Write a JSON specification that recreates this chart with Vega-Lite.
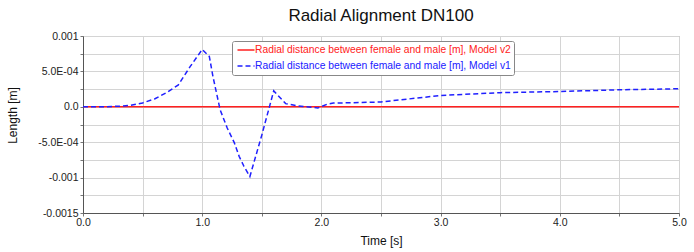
{
  "$schema": "https://vega.github.io/schema/vega-lite/v6.json",
  "autosize": {"type": "none"},
  "width": 596,
  "height": 177,
  "padding": {"left": 83, "top": 36, "right": 15, "bottom": 39},
  "background": "white",
  "config": {
    "font": "Liberation Sans",
    "view": {"stroke": "#9a9a9a", "strokeWidth": 1}
  },
  "title": {"text": "Radial Alignment DN100", "fontSize": 17, "fontWeight": "normal", "color": "#111", "anchor": "middle", "offset": 6},
  "data": {
    "values": [
      {"t": 0, "v": 0, "s": "Radial distance between female and male [m], Model v2"},
      {"t": 5, "v": 0, "s": "Radial distance between female and male [m], Model v2"},
      {"t": 0, "v": 0, "s": "Radial distance between female and male [m], Model v1"},
      {"t": 0.1, "v": 0, "s": "Radial distance between female and male [m], Model v1"},
      {"t": 0.2, "v": 0.000002, "s": "Radial distance between female and male [m], Model v1"},
      {"t": 0.3, "v": 0.000008, "s": "Radial distance between female and male [m], Model v1"},
      {"t": 0.4, "v": 0.000022, "s": "Radial distance between female and male [m], Model v1"},
      {"t": 0.5, "v": 0.000055, "s": "Radial distance between female and male [m], Model v1"},
      {"t": 0.6, "v": 0.00011, "s": "Radial distance between female and male [m], Model v1"},
      {"t": 0.7, "v": 0.0002, "s": "Radial distance between female and male [m], Model v1"},
      {"t": 0.8, "v": 0.00031, "s": "Radial distance between female and male [m], Model v1"},
      {"t": 0.9, "v": 0.00057, "s": "Radial distance between female and male [m], Model v1"},
      {"t": 1.0, "v": 0.00081, "s": "Radial distance between female and male [m], Model v1"},
      {"t": 1.06, "v": 0.00071, "s": "Radial distance between female and male [m], Model v1"},
      {"t": 1.09, "v": 0.00043, "s": "Radial distance between female and male [m], Model v1"},
      {"t": 1.15, "v": -0.00004, "s": "Radial distance between female and male [m], Model v1"},
      {"t": 1.21, "v": -0.0003, "s": "Radial distance between female and male [m], Model v1"},
      {"t": 1.27, "v": -0.00051, "s": "Radial distance between female and male [m], Model v1"},
      {"t": 1.31, "v": -0.0007, "s": "Radial distance between female and male [m], Model v1"},
      {"t": 1.35, "v": -0.00084, "s": "Radial distance between female and male [m], Model v1"},
      {"t": 1.4, "v": -0.000985, "s": "Radial distance between female and male [m], Model v1"},
      {"t": 1.5, "v": -0.0004, "s": "Radial distance between female and male [m], Model v1"},
      {"t": 1.6, "v": 0.000225, "s": "Radial distance between female and male [m], Model v1"},
      {"t": 1.7, "v": 0.000045, "s": "Radial distance between female and male [m], Model v1"},
      {"t": 1.8, "v": 0.000014, "s": "Radial distance between female and male [m], Model v1"},
      {"t": 1.97, "v": -0.000016, "s": "Radial distance between female and male [m], Model v1"},
      {"t": 2.05, "v": 0.000038, "s": "Radial distance between female and male [m], Model v1"},
      {"t": 2.1, "v": 0.000052, "s": "Radial distance between female and male [m], Model v1"},
      {"t": 2.5, "v": 0.000068, "s": "Radial distance between female and male [m], Model v1"},
      {"t": 3.0, "v": 0.00016, "s": "Radial distance between female and male [m], Model v1"},
      {"t": 3.5, "v": 0.0002, "s": "Radial distance between female and male [m], Model v1"},
      {"t": 4.0, "v": 0.000216, "s": "Radial distance between female and male [m], Model v1"},
      {"t": 4.5, "v": 0.00024, "s": "Radial distance between female and male [m], Model v1"},
      {"t": 5.0, "v": 0.000255, "s": "Radial distance between female and male [m], Model v1"}
    ]
  },
  "mark": {"type": "line", "strokeWidth": 1.5, "clip": true},
  "encoding": {
    "x": {
      "field": "t", "type": "quantitative",
      "scale": {"domain": [0, 5], "nice": false},
      "axis": {
        "title": "Time [s]", "titleFontSize": 12, "titleFontWeight": "normal", "titleColor": "#111", "titlePadding": 8,
        "values": [0, 0.5, 1, 1.5, 2, 2.5, 3, 3.5, 4, 4.5, 5],
        "labelExpr": "datum.value % 1 == 0 ? format(datum.value, '.1f') : ''",
        "labelFontSize": 10.5, "labelColor": "#222", "labelPadding": 1,
        "tickSize": 3, "tickColor": "#777", "domainColor": "#555",
        "gridColor": "#d4d4d4", "labelFlush": false, "labelOverlap": false
      }
    },
    "y": {
      "field": "v", "type": "quantitative",
      "scale": {"domain": [-0.0015, 0.001], "nice": false, "zero": false},
      "axis": {
        "title": "Length [m]", "titleFontSize": 12, "titleFontWeight": "normal", "titleColor": "#111",
        "titleAnchor": "middle", "titleY": 79, "titleX": -64,
        "values": [-0.0015, -0.00125, -0.001, -0.00075, -0.0005, -0.00025, 0, 0.00025, 0.0005, 0.00075, 0.001],
        "labelExpr": "round(datum.value*4000) == 4 ? '0.001' : round(datum.value*4000) == 2 ? '5.0E-04' : round(datum.value*4000) == 0 ? '0.0' : round(datum.value*4000) == -2 ? '-5.0E-04' : round(datum.value*4000) == -4 ? '-0.001' : round(datum.value*4000) == -6 ? '-0.0015' : ''",
        "labelFontSize": 10.5, "labelColor": "#222", "labelPadding": 2,
        "tickSize": 3, "tickColor": "#777", "domainColor": "#555",
        "gridColor": "#d4d4d4", "labelFlush": false, "labelOverlap": false
      }
    },
    "color": {
      "field": "s", "type": "nominal",
      "scale": {"domain": ["Radial distance between female and male [m], Model v2", "Radial distance between female and male [m], Model v1"], "range": ["#ff2020", "#2020ff"]},
      "legend": {
        "title": null, "orient": "none", "legendX": 149, "legendY": 5,
        "symbolType": "M-1.7,0H1.7", "symbolSize": 100, "symbolStrokeWidth": 1.5, "symbolOffset": 5,
        "labelFontSize": 10.3, "labelLimit": 400, "labelOffset": 3, "rowPadding": 4,
        "padding": 3, "fillColor": "white", "strokeColor": "#888", "cornerRadius": 2,
        "encode": {"labels": {"update": {"fill": {"signal": "indexof(datum.value, 'v2') >= 0 ? '#ff2020' : '#2020ff'"}}}}
      }
    },
    "strokeDash": {
      "field": "s", "type": "nominal",
      "scale": {"domain": ["Radial distance between female and male [m], Model v2", "Radial distance between female and male [m], Model v1"], "range": [[1, 0], [5, 3]]},
      "legend": {
        "title": null, "orient": "none", "legendX": 149, "legendY": 5,
        "symbolType": "M-1.7,0H1.7", "symbolSize": 100, "symbolStrokeWidth": 1.5, "symbolOffset": 5,
        "labelFontSize": 10.3, "labelLimit": 400, "labelOffset": 3, "rowPadding": 4,
        "padding": 3, "fillColor": "white", "strokeColor": "#888", "cornerRadius": 2,
        "encode": {"labels": {"update": {"fill": {"signal": "indexof(datum.value, 'v2') >= 0 ? '#ff2020' : '#2020ff'"}}}}
      }
    }
  }
}
